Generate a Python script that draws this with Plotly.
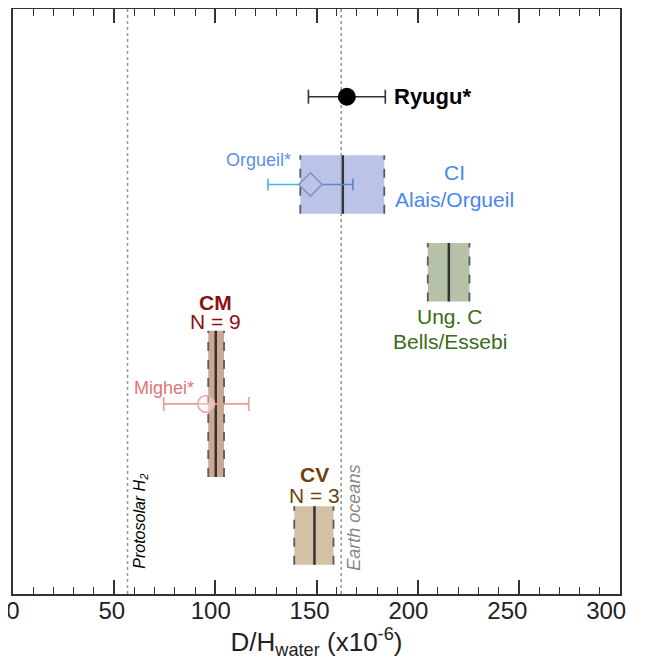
import plotly.graph_objects as go

# ---- data ----
groups = ["CI", "Ung. C", "CM", "CV"]
group_lo = [142.0, 205.0, 96.5, 139.0]
group_hi = [183.5, 225.6, 104.3, 158.4]
group_mid = [163.0, 215.4, 100.2, 149.0]
group_y = [7.0, 5.5, 3.25, 1.0]
group_half = [0.5, 0.5, 1.25, 0.5]
group_fill = ["#bcc3e8", "#b6c2a7", "#c9a993", "#d2c1a3"]

ryugu_val, ryugu_err, ryugu_y = 165.0, 19.0, 8.5
orgueil_val, orgueil_err, orgueil_y = 147.0, 21.0, 7.0
mighei_val, mighei_err, mighei_y = 95.5, 21.0, 3.25

protosolar_h2 = 56.6
earth_oceans = 162.2

x_ticks = [0, 50, 100, 150, 200, 250, 300]
x_ticktext = ["0", "50", "100", "150", "200", "250", "300"]

fig = go.Figure()

# group boxes
for lo, hi, mid, y, h, fc, g in zip(group_lo, group_hi, group_mid, group_y, group_half, group_fill, groups):
    fig.add_shape(type="rect", x0=lo, x1=hi, y0=y - h, y1=y + h, fillcolor=fc,
                  line=dict(width=0), layer="below")
    for xe in (lo, hi):
        fig.add_shape(type="line", x0=xe, x1=xe, y0=y - h, y1=y + h,
                      line=dict(color="#5a5a5a", width=1.8, dash="dash"), layer="below")
    fig.add_shape(type="line", x0=mid, x1=mid, y0=y - h, y1=y + h,
                  line=dict(color="#333333", width=2.5), layer="below")

# reference lines
for xv in (protosolar_h2, earth_oceans):
    fig.add_shape(type="line", x0=xv, x1=xv, y0=0, y1=10, xref="x", yref="y",
                  line=dict(color="#9a9a9a", width=1.6, dash="dot"), layer="below")

# Ryugu
fig.add_trace(go.Scatter(x=[ryugu_val], y=[ryugu_y], mode="markers",
                         marker=dict(color="black", size=18),
                         error_x=dict(type="data", array=[ryugu_err], color="#333333",
                                      thickness=1.6, width=7)))

# Orgueil: left half cyan, right half steel blue
fig.add_trace(go.Scatter(x=[orgueil_val], y=[orgueil_y], mode="markers",
                         marker=dict(size=0.1, color="rgba(0,0,0,0)"),
                         error_x=dict(type="data", symmetric=False, array=[0],
                                      arrayminus=[orgueil_err], color="#3fbde6",
                                      thickness=1.6, width=6)))
fig.add_trace(go.Scatter(x=[orgueil_val], y=[orgueil_y], mode="markers",
                         marker=dict(symbol="diamond", size=18, color="#bcc3e8",
                                     line=dict(color="#7f8fc4", width=1.5)),
                         error_x=dict(type="data", symmetric=False, array=[orgueil_err],
                                      arrayminus=[0], color="#6585c2",
                                      thickness=1.6, width=6)))

# Mighei
fig.add_trace(go.Scatter(x=[mighei_val], y=[mighei_y], mode="markers",
                         marker=dict(symbol="circle", size=17, color="rgba(255,235,235,0.45)",
                                     line=dict(color="#eea5a5", width=1.5)),
                         error_x=dict(type="data", array=[mighei_err], color="#eb9a9a",
                                      thickness=1.6, width=7)))

# empty trace registering the label axis
fig.add_trace(go.Scatter(x=x_ticks, y=[None] * len(x_ticks), xaxis="x2", yaxis="y",
                         mode="markers", hoverinfo="skip", showlegend=False))

F = "Liberation Sans, Arial, sans-serif"

def ann(x, y, text, color, size=21, bold=False, italic=False, xanchor="center", angle=0):
    if bold:
        text = "<b>" + text + "</b>"
    if italic:
        text = "<i>" + text + "</i>"
    fig.add_annotation(x=x, y=y, text=text, showarrow=False, xanchor=xanchor, yanchor="middle",
                       textangle=angle, font=dict(family=F, size=size, color=color))

ann(187.2, 8.5, "Ryugu*", "black", size=22, bold=True, xanchor="left")
ann(218.4, 7.2, "CI", "#4a86f0")
ann(218.4, 6.75, "Alais/Orgueil", "#4a86f0")
ann(138.6, 7.42, "Orgueil*", "#5a90f0", size=18, xanchor="right")
ann(215.9, 4.75, "Ung. C", "#3a6b1a")
ann(215.9, 4.32, "Bells/Essebi", "#3a6b1a")
ann(100.0, 4.98, "CM", "#8b1212", bold=True)
ann(100.0, 4.66, "N = 9", "#8b1212")
ann(90.2, 3.53, "Mighei*", "#e07575", size=18, xanchor="right")
ann(149.0, 2.04, "CV", "#70420a", bold=True)
ann(149.0, 1.68, "N = 3", "#70420a")
ann(63.2, 1.25, "Protosolar H<sub>2</sub>", "black", size=16, italic=True, angle=-90)
ann(168.4, 1.3, "Earth oceans", "#888888", size=18, italic=True, angle=-90)

# page body adds an 8px offset; size the figure so the plot frame lands where the reference has it
fig.update_layout(
    width=637, height=661,
    margin=dict(l=5, r=25, t=1, b=75),
    paper_bgcolor="white", plot_bgcolor="white",
    showlegend=False,
    font=dict(family=F, color="#222222"),
    xaxis=dict(range=[0, 300], tickvals=x_ticks, showticklabels=False, ticks="inside", ticklen=14,
               tickwidth=1.5, tickcolor="#333333", showline=True, linecolor="#333333", linewidth=1.5,
               mirror="ticks", showgrid=False, zeroline=False, automargin=False,
               minor=dict(dtick=10, ticks="inside", ticklen=7, tickwidth=1.3, tickcolor="#333333")),
    # label axis: the reference's tick labels sit on a slightly tighter spacing than its ticks
    xaxis2=dict(overlaying="x", anchor="y", side="bottom", range=[0, 307],
                tickvals=x_ticks, ticktext=x_ticktext, ticks="", showline=False, showgrid=False,
                zeroline=False, automargin=False, ticklabeloverflow="allow",
                tickfont=dict(family=F, size=24, color="#222222"),
                title=dict(text="D/H<sub>water</sub> (x10<sup>-6</sup>)",
                           font=dict(family=F, size=26, color="#222222"), standoff=4)),
    yaxis=dict(range=[0, 10], showticklabels=False, ticks="", showline=True, linecolor="#333333",
               linewidth=1.5, mirror=True, showgrid=False, zeroline=False, automargin=False),
)

fig.write_html("out.html")
